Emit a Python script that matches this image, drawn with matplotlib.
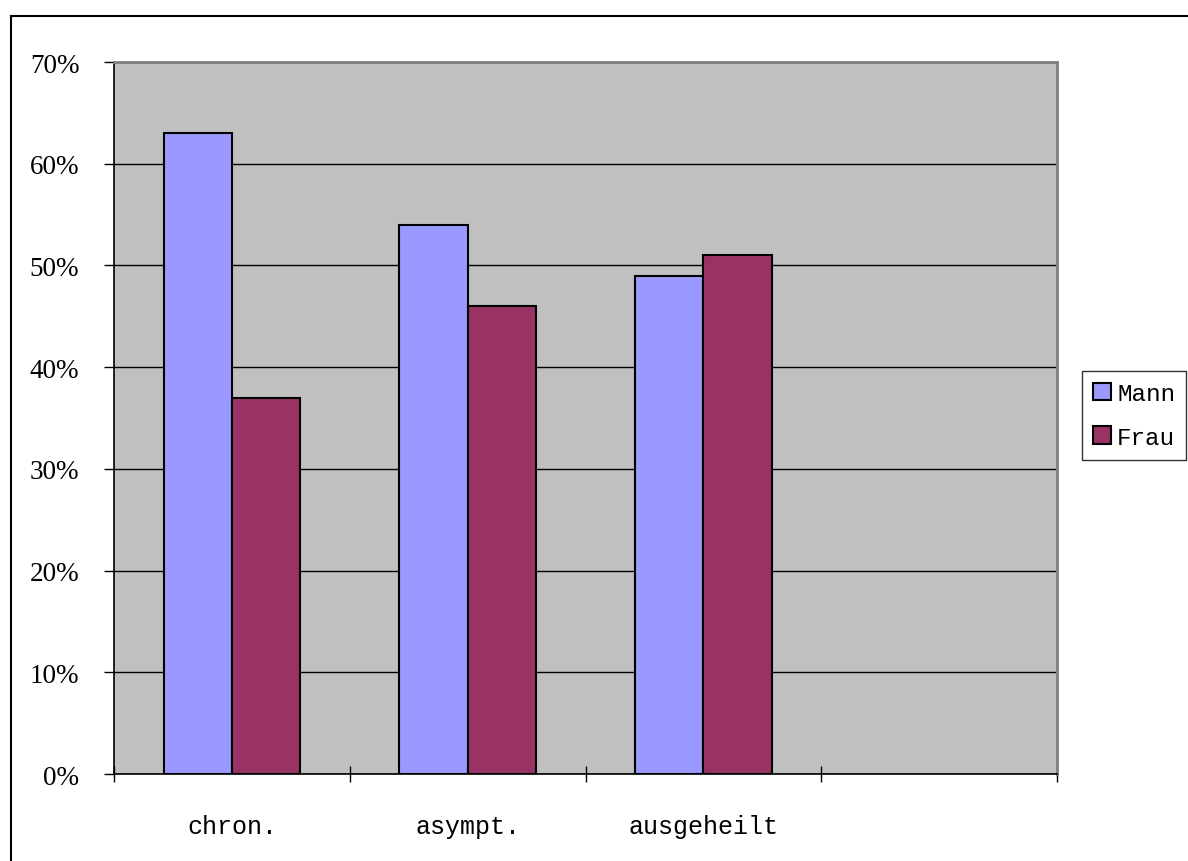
import matplotlib
matplotlib.use("Agg")
import matplotlib.pyplot as plt
from matplotlib.lines import Line2D
from matplotlib.patches import Patch
import numpy as np

# Anteile je Verlaufsform (Mann / Frau)
categories = ["chron.", "asympt.", "ausgeheilt", ""]
mann = [63, 54, 49]
frau = [37, 46, 51]
series_names = ["Mann", "Frau"]
yticks = [0, 10, 20, 30, 40, 50, 60, 70]

mann_color = "#9999FF"
frau_color = "#993366"

fig = plt.figure(figsize=(11.88, 8.62), dpi=100)
ax = fig.add_axes([0.0960, 0.1009, 0.7938, 0.8260])
ax.set_facecolor("#C0C0C0")

x = np.arange(len(mann))
w = 0.29
ax.bar(x - w / 2, mann, w, color=mann_color, edgecolor="black", linewidth=1.5, zorder=3)
ax.bar(x + w / 2, frau, w, color=frau_color, edgecolor="black", linewidth=1.5, zorder=3)

ax.set_xlim(-0.5, len(categories) - 0.5)
ax.set_ylim(0, 70)

ax.set_yticks(yticks)
ax.set_yticklabels([f"{v}%" for v in yticks], fontfamily="Liberation Serif", fontsize=19.5)
ax.yaxis.grid(True, color="black", linewidth=1.0, zorder=1)
ax.set_axisbelow(True)
ax.tick_params(axis="y", direction="out", length=7, width=1, pad=18)

# ticks between the categories, labels at the centres
ax.set_xticks(np.arange(len(categories) + 1) - 0.5)
ax.set_xticklabels([])
ax.set_xticks(np.arange(len(categories)), minor=True)
ax.set_xticklabels(categories, minor=True, fontfamily="Liberation Mono", fontsize=18)
ax.tick_params(axis="x", which="major", direction="inout", length=12, width=1)
ax.tick_params(axis="x", which="minor", length=0, pad=29)

for side in ["top", "right"]:
    ax.spines[side].set_color("#808080")
    ax.spines[side].set_linewidth(2)
for side in ["left", "bottom"]:
    ax.spines[side].set_color("black")
    ax.spines[side].set_linewidth(1.2)

handles = [Patch(facecolor=mann_color, edgecolor="black", linewidth=1.5),
           Patch(facecolor=frau_color, edgecolor="black", linewidth=1.5)]
leg = fig.legend(handles, series_names, loc="upper right",
                 bbox_to_anchor=(1186 / 1188, 1 - 372 / 862),
                 prop={"family": "Liberation Mono", "size": 17.5},
                 frameon=True, fancybox=False, shadow=False,
                 handlelength=0.75, handleheight=0.75, handletextpad=0.25,
                 borderpad=0.45, labelspacing=0.85, borderaxespad=0)
leg.get_frame().set_edgecolor("black")
leg.get_frame().set_linewidth(1.0)

# outer chart frame
fx = 11 / 1188
fy = 1 - 17 / 862
fig.add_artist(Line2D([fx, fx], [0, fy], color="black", linewidth=1.5, transform=fig.transFigure))
fig.add_artist(Line2D([fx, 1], [fy, fy], color="black", linewidth=1.5, transform=fig.transFigure))

fig.savefig("out.png", dpi=100)
